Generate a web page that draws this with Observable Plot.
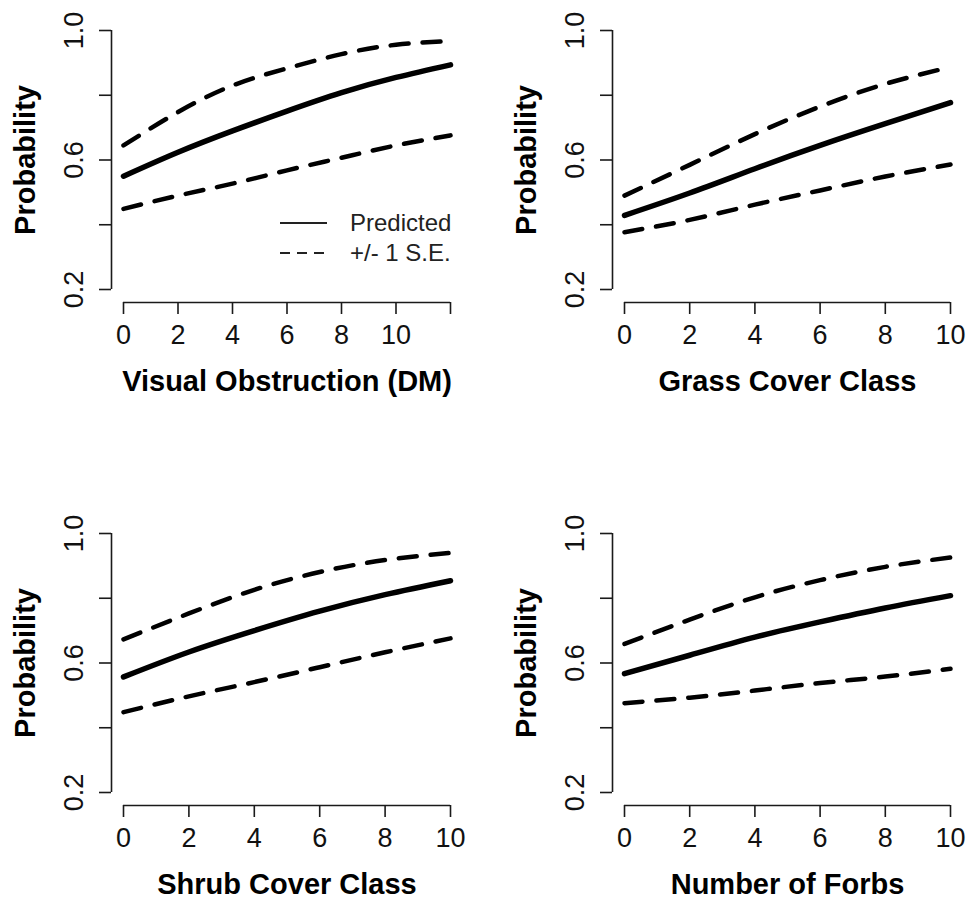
<!DOCTYPE html>
<html>
<head>
<meta charset="utf-8">
<script src="https://cdn.jsdelivr.net/npm/d3@7"></script>
<script src="https://cdn.jsdelivr.net/npm/@observablehq/plot@0.6"></script>
<style>
  body { margin: 0; background: #fff; }
  #chart { position: relative; width: 971px; height: 908px; background: #fff; }
  .panel { position: absolute; }
</style>
</head>
<body>
<div id="chart"></div>
<script>
// ---------- data ----------
const yTicks = [0.2, 0.4, 0.6, 0.8, 1.0];
const yLabel = "Probability";
const legendLabels = ["Predicted", "+/- 1 S.E."];

// Panel 1: Visual Obstruction (DM)
const voTitle = "Visual Obstruction (DM)";
const voTicks = [0, 2, 4, 6, 8, 10, 12];
const voX = [0, 2, 4, 6, 8, 10, 12];
const voPred = [0.550, 0.624, 0.690, 0.751, 0.808, 0.855, 0.894];
const voUpper = [0.645, 0.748, 0.830, 0.883, 0.927, 0.956, 0.967];
const voLower = [0.449, 0.490, 0.527, 0.568, 0.607, 0.645, 0.676];

// Panel 2: Grass Cover Class
const grTitle = "Grass Cover Class";
const grTicks = [0, 2, 4, 6, 8, 10];
const grX = [0, 2, 4, 6, 8, 10];
const grPred = [0.429, 0.498, 0.573, 0.645, 0.712, 0.777];
const grUpper = [0.490, 0.585, 0.680, 0.765, 0.835, 0.887];
const grLower = [0.377, 0.415, 0.462, 0.506, 0.549, 0.586];

// Panel 3: Shrub Cover Class
const shTitle = "Shrub Cover Class";
const shTicks = [0, 2, 4, 6, 8, 10];
const shX = [0, 2, 4, 6, 8, 10];
const shPred = [0.557, 0.634, 0.700, 0.760, 0.811, 0.854];
const shUpper = [0.673, 0.753, 0.826, 0.881, 0.918, 0.940];
const shLower = [0.448, 0.497, 0.541, 0.587, 0.633, 0.676];

// Panel 4: Number of Forbs
const fbTitle = "Number of Forbs";
const fbTicks = [0, 2, 4, 6, 8, 10];
const fbX = [0, 2, 4, 6, 8, 10];
const fbPred = [0.567, 0.624, 0.680, 0.727, 0.770, 0.808];
const fbUpper = [0.659, 0.734, 0.803, 0.856, 0.897, 0.926];
const fbLower = [0.476, 0.493, 0.515, 0.538, 0.558, 0.582];

// ---------- layout ----------
const FONT = "'Liberation Sans', Arial, Helvetica, sans-serif";
const panels = [
  {title: voTitle, ticks: voTicks, x: voX, pred: voPred, upper: voUpper, lower: voLower,
   left: 0, top: 0, width: 485, height: 454, mL: 123, mR: 35, mT: 30, mB: 165, lastUnlabeled: true},
  {title: grTitle, ticks: grTicks, x: grX, pred: grPred, upper: grUpper, lower: grLower,
   left: 485, top: 0, width: 486, height: 454, mL: 139, mR: 21, mT: 30, mB: 165},
  {title: shTitle, ticks: shTicks, x: shX, pred: shPred, upper: shUpper, lower: shLower,
   left: 0, top: 454, width: 485, height: 454, mL: 123, mR: 35, mT: 79, mB: 116},
  {title: fbTitle, ticks: fbTicks, x: fbX, pred: fbPred, upper: fbUpper, lower: fbLower,
   left: 485, top: 454, width: 486, height: 454, mL: 139, mR: 21, mT: 79, mB: 116}
];

const chart = document.getElementById("chart");
const AX = "#1a1a1a";

for (const p of panels) {
  const xDomain = [p.ticks[0], p.ticks[p.ticks.length - 1]];
  const plot = Plot.plot({
    width: p.width,
    height: p.height,
    marginLeft: p.mL,
    marginRight: p.mR,
    marginTop: p.mT,
    marginBottom: p.mB,
    style: {fontFamily: FONT, background: "transparent", overflow: "visible", color: "#000"},
    x: {domain: xDomain},
    y: {domain: [yTicks[0], yTicks[yTicks.length - 1]]},
    marks: [
      // axis lines (R style, detached from plot region)
      Plot.ruleX([xDomain[0]], {y1: yTicks[0], y2: yTicks[yTicks.length - 1], dx: -12, stroke: AX, strokeWidth: 1.6}),
      Plot.ruleY([yTicks[0]], {x1: xDomain[0], x2: xDomain[1], dy: 13, stroke: AX, strokeWidth: 1.6}),
      Plot.axisX({
        ticks: p.ticks, tickSize: 12, tickPadding: 10, dy: 13, label: null,
        tickFormat: (d) => (p.lastUnlabeled && d === xDomain[1]) ? "" : String(d),
        fontSize: 27, stroke: AX, strokeWidth: 1.6, fill: "#111"
      }),
      Plot.axisY({
        ticks: yTicks, tickSize: 12, tickPadding: 17, dx: -12, label: null, tickRotate: -90,
        tickFormat: (d, i) => i % 2 === 0 ? d.toFixed(1) : "",
        fontSize: 27, stroke: AX, strokeWidth: 1.6, fill: "#111"
      }),
      // data
      Plot.lineY(p.upper, {x: p.x, curve: "natural", stroke: "#000", strokeWidth: 4.5, strokeDasharray: "18,14"}),
      Plot.lineY(p.lower, {x: p.x, curve: "natural", stroke: "#000", strokeWidth: 4.5, strokeDasharray: "18,14"}),
      Plot.lineY(p.pred, {x: p.x, curve: "natural", stroke: "#000", strokeWidth: 5.5}),
      // titles
      Plot.text([p.title], {frameAnchor: "bottom", dy: 92, fontWeight: "bold", fontSize: 29, fill: "#000", textAnchor: "middle", lineAnchor: "middle"}),
      Plot.text([yLabel], {frameAnchor: "left", dx: -98, rotate: -90, fontWeight: "bold", fontSize: 29, fill: "#000", textAnchor: "middle", lineAnchor: "middle"})
    ]
  });
  plot.classList.add("panel");
  plot.style.left = p.left + "px";
  plot.style.top = p.top + "px";
  chart.appendChild(plot);
}

// ---------- legend (inside panel 1) ----------
const legend = d3.select(chart).append("svg")
  .attr("class", "panel")
  .attr("width", 200).attr("height", 70)
  .style("left", "270px").style("top", "205px")
  .style("font-family", FONT);
const styles = [null, "10,7"];
legendLabels.forEach((lab, i) => {
  const y = 18 + i * 30;
  legend.append("line")
    .attr("x1", 10).attr("x2", 57).attr("y1", y).attr("y2", y)
    .attr("stroke", "#222").attr("stroke-width", 2.2)
    .attr("stroke-dasharray", styles[i]);
  legend.append("text")
    .attr("x", 80).attr("y", y).attr("dy", "0.35em")
    .attr("font-size", 24).attr("fill", "#222")
    .text(lab);
});
</script>
</body>
</html>
